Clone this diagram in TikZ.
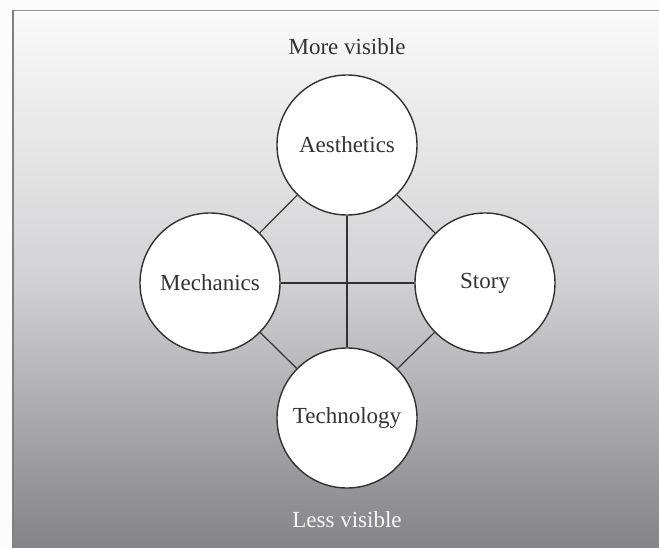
\documentclass[tikz,border=0pt]{standalone}
\usepackage{fontspec}
\setmainfont{Liberation Serif}
\definecolor{bgtop}{RGB}{250,250,250}
\definecolor{bgmid}{RGB}{210,210,212}
\definecolor{bgbot}{RGB}{132,132,136}
\definecolor{linec}{RGB}{50,50,50}
\definecolor{edgec}{RGB}{150,150,150}
\begin{document}
\begin{tikzpicture}[x=1pt,y=-1pt,
  topic/.style={circle,draw=linec,line width=1.4pt,fill=white,minimum size=140pt,inner sep=0pt,font=\fontsize{23}{26}\selectfont,text=black!80},
  link/.style={draw=linec,line width=1.2pt},
  caption/.style={font=\fontsize{23}{26}\selectfont}]
\useasboundingbox (0,0) rectangle (659,548);
\fill[white!98!gray] (0,0) rectangle (659,548);
\shade[top color=bgtop,bottom color=bgbot,middle color=bgmid] (12,10) rectangle (659,548);
\draw[edgec,line width=1.2pt] (12,10.5) -- (659,10.5);
\draw[gray,line width=2.5pt] (13,10) -- (13,548);
\node[topic] (aes) at (347,145) {Aesthetics};
\node[topic] (mec) at (210,283) {Mechanics};
\node[topic] (sto) at (485,283) {Story};
\node[topic] (tec) at (347,418) {Technology};
\node[caption,text=black!80] (more) at (347,47) {More visible};
\node[caption,text=white!95!gray] (less) at (347,520) {Less visible};
\path[link] (aes) -- (tec);
\path[link] (mec) -- (sto);
\path[link] (aes) -- (mec);
\path[link] (aes) -- (sto);
\path[link] (tec) -- (mec);
\path[link] (tec) -- (sto);
\end{tikzpicture}
\end{document}
